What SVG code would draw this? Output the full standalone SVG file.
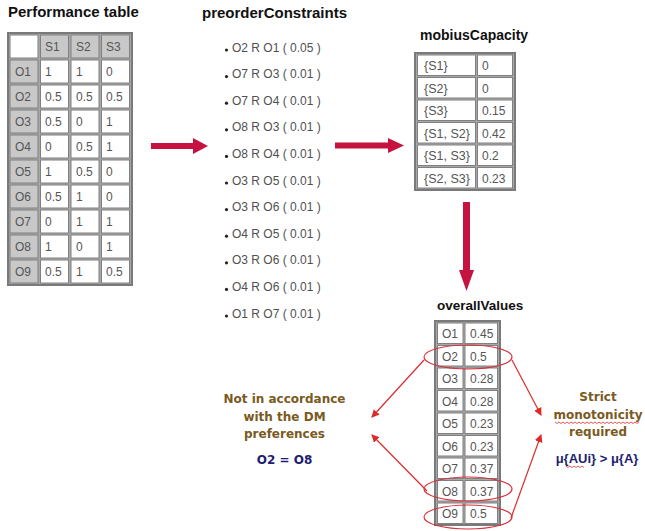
<svg xmlns="http://www.w3.org/2000/svg" width="645" height="531" viewBox="0 0 645 531">
<style>
.title{font-family:"Liberation Sans",Arial,sans-serif;font-weight:bold;fill:#111}
.cell{font-family:"Liberation Sans",Arial,sans-serif;font-size:12px;fill:#555}
.tbl{fill:#a8a8a8;stroke:#7a7a7a;stroke-width:2}
.c{fill:#fff;stroke:#808080;stroke-width:1}
.h{fill:#c8c8c8;stroke:#808080;stroke-width:1}
.item{font-family:"Liberation Sans",Arial,sans-serif;font-size:12px;fill:#505050}
.big{fill:#c5123f}
.thin{stroke:#e02a2a;stroke-width:1.2;fill:none}
.ell{stroke:#d8303a;stroke-width:1.2;fill:none}
.note{font-family:"DejaVu Sans",Verdana,sans-serif;font-weight:bold;font-size:12px;text-anchor:middle}
.brown{fill:#7a5a22}
.navy{fill:#1e1e72}
.wavy{stroke:#e03030;stroke-width:0.8;fill:none}
</style>
<defs>
<marker id="ah" markerWidth="8" markerHeight="8" refX="7" refY="4" orient="auto" markerUnits="userSpaceOnUse">
<path d="M0,0 L8,4 L0,8 Z" fill="#e02a2a"/>
</marker>
</defs>
<rect width="645" height="531" fill="#fff"/>

<g id="performance-table">
<text class="title" x="8" y="17" font-size="15">Performance table</text>
<rect class="tbl" x="8" y="33" width="124" height="252"/>
<rect class="c" x="10" y="35" width="28" height="23"/>
<rect class="h" x="40.5" y="35" width="28" height="23"/>
<rect class="h" x="71" y="35" width="28" height="23"/>
<rect class="h" x="101.5" y="35" width="28" height="23"/>
<text class="cell" x="45" y="51">S1</text>
<text class="cell" x="76" y="51">S2</text>
<text class="cell" x="106" y="51">S3</text>
<g>
<rect class="h" x="10" y="60" width="28" height="23"/><rect class="c" x="40.5" y="60" width="28" height="23"/><rect class="c" x="71" y="60" width="28" height="23"/><rect class="c" x="101.5" y="60" width="28" height="23"/>
<rect class="h" x="10" y="85" width="28" height="23"/><rect class="c" x="40.5" y="85" width="28" height="23"/><rect class="c" x="71" y="85" width="28" height="23"/><rect class="c" x="101.5" y="85" width="28" height="23"/>
<rect class="h" x="10" y="110" width="28" height="23"/><rect class="c" x="40.5" y="110" width="28" height="23"/><rect class="c" x="71" y="110" width="28" height="23"/><rect class="c" x="101.5" y="110" width="28" height="23"/>
<rect class="h" x="10" y="135" width="28" height="23"/><rect class="c" x="40.5" y="135" width="28" height="23"/><rect class="c" x="71" y="135" width="28" height="23"/><rect class="c" x="101.5" y="135" width="28" height="23"/>
<rect class="h" x="10" y="160" width="28" height="23"/><rect class="c" x="40.5" y="160" width="28" height="23"/><rect class="c" x="71" y="160" width="28" height="23"/><rect class="c" x="101.5" y="160" width="28" height="23"/>
<rect class="h" x="10" y="185" width="28" height="23"/><rect class="c" x="40.5" y="185" width="28" height="23"/><rect class="c" x="71" y="185" width="28" height="23"/><rect class="c" x="101.5" y="185" width="28" height="23"/>
<rect class="h" x="10" y="210" width="28" height="23"/><rect class="c" x="40.5" y="210" width="28" height="23"/><rect class="c" x="71" y="210" width="28" height="23"/><rect class="c" x="101.5" y="210" width="28" height="23"/>
<rect class="h" x="10" y="235" width="28" height="23"/><rect class="c" x="40.5" y="235" width="28" height="23"/><rect class="c" x="71" y="235" width="28" height="23"/><rect class="c" x="101.5" y="235" width="28" height="23"/>
<rect class="h" x="10" y="260" width="28" height="23"/><rect class="c" x="40.5" y="260" width="28" height="23"/><rect class="c" x="71" y="260" width="28" height="23"/><rect class="c" x="101.5" y="260" width="28" height="23"/>
</g>
<g class="cell">
<text x="15" y="76">O1</text><text x="45" y="76">1</text><text x="76" y="76">1</text><text x="106" y="76">0</text>
<text x="15" y="101">O2</text><text x="45" y="101">0.5</text><text x="76" y="101">0.5</text><text x="106" y="101">0.5</text>
<text x="15" y="126">O3</text><text x="45" y="126">0.5</text><text x="76" y="126">0</text><text x="106" y="126">1</text>
<text x="15" y="151">O4</text><text x="45" y="151">0</text><text x="76" y="151">0.5</text><text x="106" y="151">1</text>
<text x="15" y="176">O5</text><text x="45" y="176">1</text><text x="76" y="176">0.5</text><text x="106" y="176">0</text>
<text x="15" y="201">O6</text><text x="45" y="201">0.5</text><text x="76" y="201">1</text><text x="106" y="201">0</text>
<text x="15" y="226">O7</text><text x="45" y="226">0</text><text x="76" y="226">1</text><text x="106" y="226">1</text>
<text x="15" y="251">O8</text><text x="45" y="251">1</text><text x="76" y="251">0</text><text x="106" y="251">1</text>
<text x="15" y="276">O9</text><text x="45" y="276">0.5</text><text x="76" y="276">1</text><text x="106" y="276">0.5</text>
</g>
</g>

<g id="preorder-constraints">
<text class="title" x="202" y="18" font-size="15">preorderConstraints</text>
<g fill="#222">
<circle cx="226.5" cy="50" r="1.6"/><circle cx="226.5" cy="76.6" r="1.6"/><circle cx="226.5" cy="103.2" r="1.6"/><circle cx="226.5" cy="129.8" r="1.6"/><circle cx="226.5" cy="156.4" r="1.6"/><circle cx="226.5" cy="183" r="1.6"/><circle cx="226.5" cy="209.6" r="1.6"/><circle cx="226.5" cy="236.2" r="1.6"/><circle cx="226.5" cy="262.8" r="1.6"/><circle cx="226.5" cy="289.4" r="1.6"/><circle cx="226.5" cy="316" r="1.6"/>
</g>
<g class="item">
<text x="232" y="51.5">O2 R O1 ( 0.05 )</text>
<text x="232" y="78.1">O7 R O3 ( 0.01 )</text>
<text x="232" y="104.7">O7 R O4 ( 0.01 )</text>
<text x="232" y="131.3">O8 R O3 ( 0.01 )</text>
<text x="232" y="157.9">O8 R O4 ( 0.01 )</text>
<text x="232" y="184.5">O3 R O5 ( 0.01 )</text>
<text x="232" y="211.1">O3 R O6 ( 0.01 )</text>
<text x="232" y="237.7">O4 R O5 ( 0.01 )</text>
<text x="232" y="264.3">O3 R O6 ( 0.01 )</text>
<text x="232" y="290.9">O4 R O6 ( 0.01 )</text>
<text x="232" y="317.5">O1 R O7 ( 0.01 )</text>
</g>
</g>

<g id="mobius-capacity">
<text class="title" x="420" y="40" font-size="14">mobiusCapacity</text>
<rect class="tbl" x="415" y="53" width="100" height="137"/>
<rect class="c" x="417.5" y="55" width="58" height="20.5"/><rect class="c" x="477.5" y="55" width="35" height="20.5"/>
<rect class="c" x="417.5" y="77.5" width="58" height="20.5"/><rect class="c" x="477.5" y="77.5" width="35" height="20.5"/>
<rect class="c" x="417.5" y="100" width="58" height="20.5"/><rect class="c" x="477.5" y="100" width="35" height="20.5"/>
<rect class="c" x="417.5" y="122.5" width="58" height="20.5"/><rect class="c" x="477.5" y="122.5" width="35" height="20.5"/>
<rect class="c" x="417.5" y="145" width="58" height="20.5"/><rect class="c" x="477.5" y="145" width="35" height="20.5"/>
<rect class="c" x="417.5" y="167.5" width="58" height="20.5"/><rect class="c" x="477.5" y="167.5" width="35" height="20.5"/>
<g class="cell">
<text x="424" y="70" font-size="12.5">{S1}</text><text x="482" y="70">0</text>
<text x="424" y="92.5" font-size="12.5">{S2}</text><text x="482" y="92.5">0</text>
<text x="424" y="115" font-size="12.5">{S3}</text><text x="482" y="115">0.15</text>
<text x="424" y="137.5" font-size="12.5">{S1, S2}</text><text x="482" y="137.5">0.42</text>
<text x="424" y="160" font-size="12.5">{S1, S3}</text><text x="482" y="160">0.2</text>
<text x="424" y="182.5" font-size="12.5">{S2, S3}</text><text x="482" y="182.5">0.23</text>
</g>
</g>

<g id="overall-values">
<text class="title" x="437" y="310" font-size="13.5">overallValues</text>
<rect class="tbl" x="435" y="321" width="65" height="204"/>
<g>
<rect class="c" x="437.5" y="323" width="25.5" height="20.5"/><rect class="c" x="465" y="323" width="32.5" height="20.5"/>
<rect class="c" x="437.5" y="345.5" width="25.5" height="20.5"/><rect class="c" x="465" y="345.5" width="32.5" height="20.5"/>
<rect class="c" x="437.5" y="368" width="25.5" height="20.5"/><rect class="c" x="465" y="368" width="32.5" height="20.5"/>
<rect class="c" x="437.5" y="390.5" width="25.5" height="20.5"/><rect class="c" x="465" y="390.5" width="32.5" height="20.5"/>
<rect class="c" x="437.5" y="413" width="25.5" height="20.5"/><rect class="c" x="465" y="413" width="32.5" height="20.5"/>
<rect class="c" x="437.5" y="435.5" width="25.5" height="20.5"/><rect class="c" x="465" y="435.5" width="32.5" height="20.5"/>
<rect class="c" x="437.5" y="458" width="25.5" height="20.5"/><rect class="c" x="465" y="458" width="32.5" height="20.5"/>
<rect class="c" x="437.5" y="480.5" width="25.5" height="20.5"/><rect class="c" x="465" y="480.5" width="32.5" height="20.5"/>
<rect class="c" x="437.5" y="503" width="25.5" height="20.5"/><rect class="c" x="465" y="503" width="32.5" height="20.5"/>
</g>
<g class="cell">
<text x="442" y="338">O1</text><text x="470" y="338">0.45</text>
<text x="442" y="360.5">O2</text><text x="470" y="360.5">0.5</text>
<text x="442" y="383">O3</text><text x="470" y="383">0.28</text>
<text x="442" y="405.5">O4</text><text x="470" y="405.5">0.28</text>
<text x="442" y="428">O5</text><text x="470" y="428">0.23</text>
<text x="442" y="450.5">O6</text><text x="470" y="450.5">0.23</text>
<text x="442" y="473">O7</text><text x="470" y="473">0.37</text>
<text x="442" y="495.5">O8</text><text x="470" y="495.5">0.37</text>
<text x="442" y="518">O9</text><text x="470" y="518">0.5</text>
</g>
<ellipse class="ell" cx="468" cy="357" rx="44" ry="12"/>
<ellipse class="ell" cx="468" cy="489" rx="44" ry="12"/>
<ellipse class="ell" cx="468" cy="517" rx="44" ry="12"/>
</g>

<g id="note-left">
<text class="note brown" x="284.5" y="403">Not in accordance</text>
<text class="note brown" x="284.5" y="421">with the DM</text>
<text class="note brown" x="284.5" y="438">preferences</text>
<text class="note navy" x="284.5" y="464">O2 = O8</text>
</g>

<g id="note-right">
<text class="note brown" x="598" y="401">Strict</text>
<text class="note brown" x="598" y="419">monotonicity</text>
<text class="note brown" x="598" y="436">required</text>
<text x="597" y="463" font-family="'Liberation Sans',Arial,sans-serif" font-weight="bold" font-size="13" text-anchor="middle" fill="#1e1e72">μ{AUi} &gt; μ{A}</text>
<path class="wavy" d="M555,422 l2,1.5 l2,-1.5 l2,1.5 l2,-1.5 l2,1.5 l2,-1.5 l2,1.5 l2,-1.5 l2,1.5 l2,-1.5 l2,1.5 l2,-1.5 l2,1.5 l2,-1.5 l2,1.5 l2,-1.5 l2,1.5 l2,-1.5 l2,1.5 l2,-1.5 l2,1.5 l2,-1.5 l2,1.5 l2,-1.5 l2,1.5 l2,-1.5 l2,1.5 l2,-1.5 l2,1.5 l2,-1.5 l2,1.5 l2,-1.5 l2,1.5 l2,-1.5 l2,1.5 l2,-1.5 l2,1.5 l2,-1.5 l2,1.5 l2,-1.5 l2,1.5 l2,-1.5"/>
<path class="wavy" d="M566,466 l2,1.5 l2,-1.5 l2,1.5 l2,-1.5 l2,1.5 l2,-1.5 l2,1.5 l2,-1.5 l2,1.5"/>
</g>

<g id="connectors">
<polygon class="big" points="151,143 193,143 193,138 208,146 193,154 193,149 151,149"/>
<polygon class="big" points="335,142.5 388,142.5 388,138 404,145.5 388,153 388,148.5 335,148.5"/>
<polygon class="big" points="463,202 470,202 470,270 474,270 466.5,291 459,270 463,270"/>
<line class="thin" x1="424" y1="360" x2="372" y2="417" marker-end="url(#ah)"/>
<line class="thin" x1="427" y1="491" x2="372" y2="435" marker-end="url(#ah)"/>
<line class="thin" x1="512" y1="360" x2="541" y2="415" marker-end="url(#ah)"/>
<line class="thin" x1="511" y1="518" x2="541" y2="435" marker-end="url(#ah)"/>
</g>
</svg>
